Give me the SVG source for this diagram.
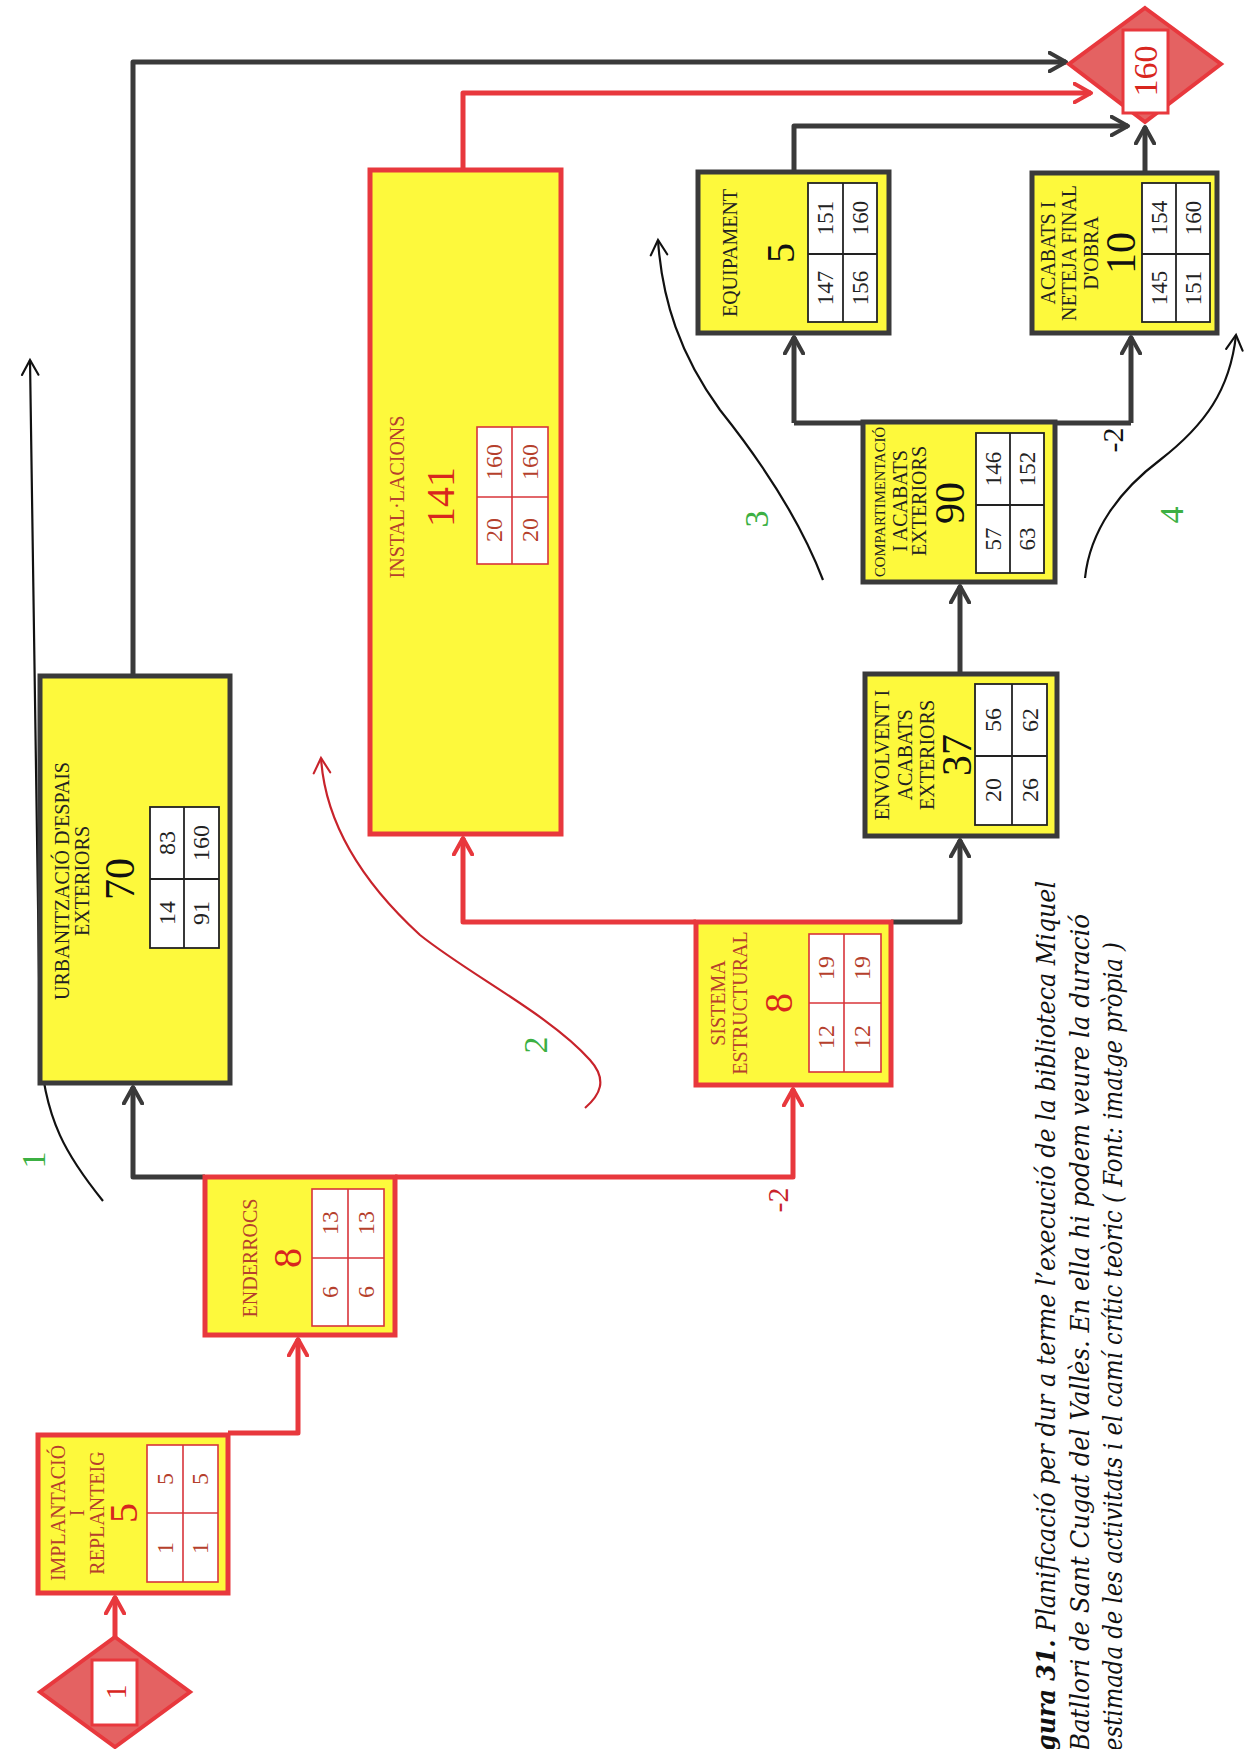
<svg xmlns="http://www.w3.org/2000/svg" width="1259" height="1749" viewBox="0 0 1259 1749">
<defs>
<marker id="ab" viewBox="0 0 12 12" refX="10" refY="6" markerWidth="4.4" markerHeight="4.4" orient="auto" markerUnits="strokeWidth">
<path d="M1,1 L10,6 L1,11" fill="none" stroke="#3a3a3a" stroke-width="2.2" stroke-linecap="round" stroke-linejoin="round"/>
</marker>
<marker id="ar" viewBox="0 0 12 12" refX="10" refY="6" markerWidth="4.4" markerHeight="4.4" orient="auto" markerUnits="strokeWidth">
<path d="M1,1 L10,6 L1,11" fill="none" stroke="#e8383d" stroke-width="2.2" stroke-linecap="round" stroke-linejoin="round"/>
</marker>
<marker id="tb" viewBox="0 0 12 12" refX="10" refY="6" markerWidth="9" markerHeight="9" orient="auto" markerUnits="strokeWidth">
<path d="M1,1 L10,6 L1,11" fill="none" stroke="#111" stroke-width="1.3" stroke-linecap="round"/>
</marker>
<marker id="tr" viewBox="0 0 12 12" refX="10" refY="6" markerWidth="9" markerHeight="9" orient="auto" markerUnits="strokeWidth">
<path d="M1,1 L10,6 L1,11" fill="none" stroke="#c8232b" stroke-width="1.3" stroke-linecap="round"/>
</marker>
<style>
text{font-family:"Liberation Serif","DejaVu Serif",serif;text-anchor:middle;dominant-baseline:central}
.nr{fill:#fdf93c;stroke:#e8383d;stroke-width:5}
.nb{fill:#fdf93c;stroke:#3a3a3a;stroke-width:5}
.tr{fill:#fff;stroke:#d8343a;stroke-width:1.6}
.tb{fill:#fff;stroke:#222;stroke-width:1.8}
.dr{stroke:#d8343a;stroke-width:1.6}
.db{stroke:#222;stroke-width:1.8}
.lr{fill:#b5402c;font-size:20px}
.lb{fill:#222;font-size:20px}
.br{fill:#d8261e;font-size:40px}
.bb{fill:#111;font-size:42px}
.cr{fill:#b5402c;font-size:24px}
.cb{fill:#222;font-size:24px}
.cb2{fill:#222;font-size:23px}
.kb{fill:none;stroke:#3a3a3a;stroke-width:5;stroke-linejoin:round}
.kr{fill:none;stroke:#e8383d;stroke-width:5;stroke-linejoin:round}
.cvb{fill:none;stroke:#111;stroke-width:2.2}
.cvr{fill:none;stroke:#c8232b;stroke-width:2.2}
.g{fill:#3cb043;font-size:34px}
.dia{fill:#e46262;stroke:#e8383d;stroke-width:4}
.cap{fill:#111;font-size:26px;font-style:italic;text-anchor:start;font-family:"DejaVu Serif","Liberation Serif",serif}
</style>
</defs>
<rect width="1259" height="1749" fill="#fff"/>

<g id="connectors">
<path class="kr" d="M115,1637 L115,1597" marker-end="url(#ar)"/>
<path class="kr" d="M228,1433 L298,1433 L298,1339" marker-end="url(#ar)"/>
<path class="kb" d="M205,1177 L133,1177 L133,1087" marker-end="url(#ab)"/>
<path class="kr" d="M395,1177 L793,1177 L793,1089" marker-end="url(#ar)"/>
<path class="kr" d="M696,922 L463,922 L463,838" marker-end="url(#ar)"/>
<path class="kb" d="M133,676 L133,62 L1066,62" marker-end="url(#ab)"/>
<path class="kr" d="M463,170 L463,93 L1091,93" marker-end="url(#ar)"/>
<path class="kb" d="M891,922 L960,922 L960,840" marker-end="url(#ab)"/>
<path class="kb" d="M960,674 L960,586" marker-end="url(#ab)"/>
<path class="kb" d="M794,423 L1131,423"/>
<path class="kb" d="M794,423 L794,337" marker-end="url(#ab)"/>
<path class="kb" d="M1131,423 L1131,337" marker-end="url(#ab)"/>
<path class="kb" d="M794,172 L794,126 L1128,126" marker-end="url(#ab)"/>
<path class="kb" d="M1145,173 L1145,127" marker-end="url(#ab)"/>
<text class="br" style="font-size:30px;fill:#c8232b" transform="translate(777,1200) rotate(-90)">-2</text>
<text class="bb" style="font-size:30px" transform="translate(1112,440) rotate(-90)">-2</text>
</g>

<g id="paths">
<path class="cvb" d="M103,1201 C70,1160 42,1120 40,1040 L30,360" marker-end="url(#tb)"/>
<text class="g" transform="translate(33,1160) rotate(-90)">1</text>
<path class="cvr" d="M585,1108 C600,1095 608,1080 590,1060 C550,1015 470,975 420,935 C360,880 325,820 321,758" marker-end="url(#tr)"/>
<text class="g" transform="translate(535,1045) rotate(-90)">2</text>
<path class="cvb" d="M823,580 C800,520 760,460 720,410 C680,355 662,300 658,240" marker-end="url(#tb)"/>
<text class="g" transform="translate(756,519) rotate(-90)">3</text>
<path class="cvb" d="M1085,578 C1090,530 1120,490 1160,460 C1205,425 1230,390 1236,335" marker-end="url(#tb)"/>
<text class="g" transform="translate(1171,515) rotate(-90)">4</text>
</g>

<g id="start">
<polygon class="dia" points="115,1637 190,1692 115,1747 40,1692"/>
<rect x="92" y="1660" width="45" height="65" fill="#fff" stroke="#e8383d" stroke-width="3"/>
<text class="br" style="font-size:30px" transform="translate(115,1692) rotate(-90)">1</text>
</g>

<g id="end">
<polygon class="dia" points="1145,8 1221,64 1145,122 1069,64"/>
<rect x="1123" y="30" width="45" height="83" fill="#fff" stroke="#e8383d" stroke-width="3"/>
<text class="br" style="font-size:34px" transform="translate(1145,71) rotate(-90)">160</text>
</g>

<g id="implantacio">
<rect class="nr" x="38" y="1435" width="190" height="158"/>
<rect class="tr" x="147" y="1445" width="71" height="137"/>
<line class="dr" x1="183" y1="1445" x2="183" y2="1582"/>
<line class="dr" x1="147" y1="1513" x2="218" y2="1513"/>
<text class="lr" transform="translate(58,1513) rotate(-90)">IMPLANTACIÓ</text>
<text class="lr" transform="translate(77,1513) rotate(-90)">I</text>
<text class="lr" transform="translate(97,1513) rotate(-90)">REPLANTEIG</text>
<text class="br" transform="translate(123,1513) rotate(-90)">5</text>
<text class="cr" transform="translate(165,1479) rotate(-90)">5</text>
<text class="cr" transform="translate(165,1548) rotate(-90)">1</text>
<text class="cr" transform="translate(200,1479) rotate(-90)">5</text>
<text class="cr" transform="translate(200,1548) rotate(-90)">1</text>
</g>

<g id="enderrocs">
<rect class="nr" x="205" y="1177" width="190" height="158"/>
<rect class="tr" x="312" y="1189" width="72" height="137"/>
<line class="dr" x1="348" y1="1189" x2="348" y2="1326"/>
<line class="dr" x1="312" y1="1258" x2="384" y2="1258"/>
<text class="lr" transform="translate(250,1258) rotate(-90)">ENDERROCS</text>
<text class="br" transform="translate(287,1258) rotate(-90)">8</text>
<text class="cr" transform="translate(330,1223) rotate(-90)">13</text>
<text class="cr" transform="translate(330,1292) rotate(-90)">6</text>
<text class="cr" transform="translate(366,1223) rotate(-90)">13</text>
<text class="cr" transform="translate(366,1292) rotate(-90)">6</text>
</g>

<g id="urbanitzacio">
<rect class="nb" x="40" y="676" width="190" height="407"/>
<rect class="tb" x="150" y="807" width="69" height="141"/>
<line class="db" x1="184" y1="807" x2="184" y2="948"/>
<line class="db" x1="150" y1="879" x2="219" y2="879"/>
<text class="lb" transform="translate(62,881) rotate(-90)">URBANITZACIÓ D'ESPAIS</text>
<text class="lb" transform="translate(82,881) rotate(-90)">EXTERIORS</text>
<text class="bb" transform="translate(120,879) rotate(-90)">70</text>
<text class="cb" transform="translate(167,843) rotate(-90)">83</text>
<text class="cb" transform="translate(167,913) rotate(-90)">14</text>
<text class="cb" transform="translate(201,843) rotate(-90)">160</text>
<text class="cb" transform="translate(201,913) rotate(-90)">91</text>
</g>

<g id="installacions">
<rect class="nr" x="370" y="170" width="191" height="664"/>
<rect class="tr" x="477" y="427" width="71" height="137"/>
<line class="dr" x1="512" y1="427" x2="512" y2="564"/>
<line class="dr" x1="477" y1="497" x2="548" y2="497"/>
<text class="lr" transform="translate(397,497) rotate(-90)">INSTAL·LACIONS</text>
<text class="br" transform="translate(440,497) rotate(-90)">141</text>
<text class="cr" transform="translate(494,462) rotate(-90)">160</text>
<text class="cr" transform="translate(494,530) rotate(-90)">20</text>
<text class="cr" transform="translate(530,462) rotate(-90)">160</text>
<text class="cr" transform="translate(530,530) rotate(-90)">20</text>
</g>

<g id="sistema">
<rect class="nr" x="696" y="922" width="195" height="163"/>
<rect class="tr" x="809" y="934" width="72" height="138"/>
<line class="dr" x1="844" y1="934" x2="844" y2="1072"/>
<line class="dr" x1="809" y1="1003" x2="881" y2="1003"/>
<text class="lr" transform="translate(718,1003) rotate(-90)">SISTEMA</text>
<text class="lr" transform="translate(740,1003) rotate(-90)">ESTRUCTURAL</text>
<text class="br" transform="translate(778,1003) rotate(-90)">8</text>
<text class="cr" transform="translate(826,968) rotate(-90)">19</text>
<text class="cr" transform="translate(826,1037) rotate(-90)">12</text>
<text class="cr" transform="translate(862,968) rotate(-90)">19</text>
<text class="cr" transform="translate(862,1037) rotate(-90)">12</text>
</g>

<g id="envolvent">
<rect class="nb" x="865" y="674" width="192" height="162"/>
<rect class="tb" x="975" y="684" width="72" height="141"/>
<line class="db" x1="1012" y1="684" x2="1012" y2="825"/>
<line class="db" x1="975" y1="756" x2="1047" y2="756"/>
<text class="lb" transform="translate(882,755) rotate(-90)">ENVOLVENT I</text>
<text class="lb" transform="translate(905,755) rotate(-90)">ACABATS</text>
<text class="lb" transform="translate(927,755) rotate(-90)">EXTERIORS</text>
<text class="bb" transform="translate(957,755) rotate(-90)">37</text>
<text class="cb" transform="translate(993,720) rotate(-90)">56</text>
<text class="cb" transform="translate(993,790) rotate(-90)">20</text>
<text class="cb" transform="translate(1030,720) rotate(-90)">62</text>
<text class="cb" transform="translate(1030,790) rotate(-90)">26</text>
</g>

<g id="compartimentacio">
<rect class="nb" x="863" y="422" width="192" height="160"/>
<rect class="tb" x="976" y="433" width="68" height="140"/>
<line class="db" x1="1010" y1="433" x2="1010" y2="573"/>
<line class="db" x1="976" y1="505" x2="1044" y2="505"/>
<text class="lb" style="font-size:15px" transform="translate(880,502) rotate(-90)" textLength="150" lengthAdjust="spacingAndGlyphs">COMPARTIMENTACIÓ</text>
<text class="lb" transform="translate(900,501) rotate(-90)">I ACABATS</text>
<text class="lb" transform="translate(919,501) rotate(-90)">EXTERIORS</text>
<text class="bb" transform="translate(950,503) rotate(-90)">90</text>
<text class="cb2" transform="translate(993,469) rotate(-90)">146</text>
<text class="cb2" transform="translate(993,539) rotate(-90)">57</text>
<text class="cb2" transform="translate(1027,469) rotate(-90)">152</text>
<text class="cb2" transform="translate(1027,539) rotate(-90)">63</text>
</g>

<g id="equipament">
<rect class="nb" x="698" y="172" width="191" height="161"/>
<rect class="tb" x="808" y="183" width="69" height="139"/>
<line class="db" x1="843" y1="183" x2="843" y2="322"/>
<line class="db" x1="808" y1="254" x2="877" y2="254"/>
<text class="lb" transform="translate(730,253) rotate(-90)">EQUIPAMENT</text>
<text class="bb" style="font-size:40px" transform="translate(780,253) rotate(-90)">5</text>
<text class="cb2" transform="translate(825,218) rotate(-90)">151</text>
<text class="cb2" transform="translate(825,288) rotate(-90)">147</text>
<text class="cb2" transform="translate(860,218) rotate(-90)">160</text>
<text class="cb2" transform="translate(860,288) rotate(-90)">156</text>
</g>

<g id="acabats">
<rect class="nb" x="1032" y="173" width="185" height="160"/>
<rect class="tb" x="1142" y="183" width="68" height="139"/>
<line class="db" x1="1176" y1="183" x2="1176" y2="322"/>
<line class="db" x1="1142" y1="254" x2="1210" y2="254"/>
<text class="lb" transform="translate(1048,253) rotate(-90)">ACABATS I</text>
<text class="lb" transform="translate(1069,253) rotate(-90)">NETEJA FINAL</text>
<text class="lb" transform="translate(1091,253) rotate(-90)">D'OBRA</text>
<text class="bb" transform="translate(1121,253) rotate(-90)">10</text>
<text class="cb2" transform="translate(1159,218) rotate(-90)">154</text>
<text class="cb2" transform="translate(1159,288) rotate(-90)">145</text>
<text class="cb2" transform="translate(1193,218) rotate(-90)">160</text>
<text class="cb2" transform="translate(1193,288) rotate(-90)">151</text>
</g>

<g id="caption">
<text class="cap" transform="translate(1046,1751) rotate(-90)" textLength="870" lengthAdjust="spacingAndGlyphs"><tspan font-weight="bold">gura 31.</tspan> Planificació per dur a terme l’execució de la biblioteca Miquel</text>
<text class="cap" transform="translate(1080,1751) rotate(-90)" textLength="837" lengthAdjust="spacingAndGlyphs">Batllori de Sant Cugat del Vallès. En ella hi podem veure la duració</text>
<text class="cap" transform="translate(1113,1751) rotate(-90)" textLength="809" lengthAdjust="spacingAndGlyphs">estimada de les activitats i el camí crític teòric ( Font: imatge pròpia )</text>
</g>
</svg>
